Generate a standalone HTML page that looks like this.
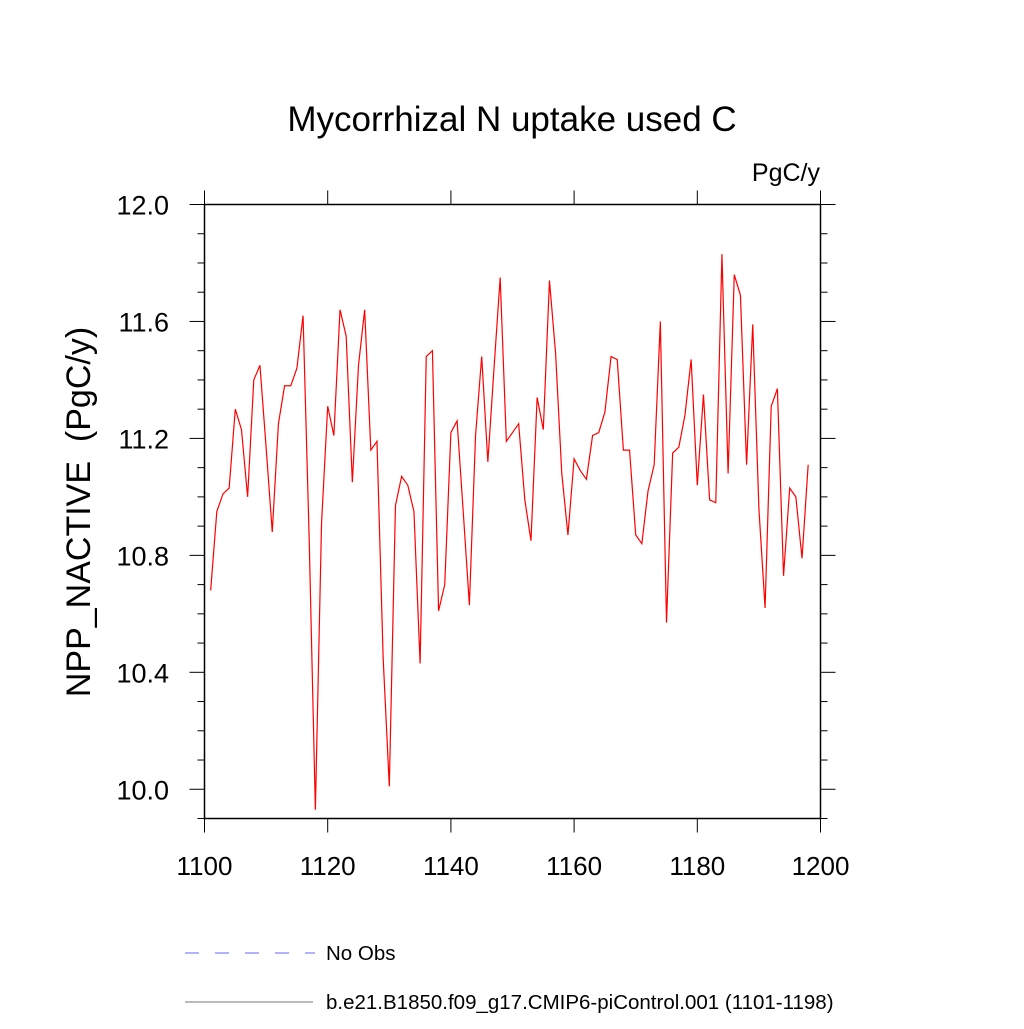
<!DOCTYPE html>
<html><head><meta charset="utf-8"><style>
body{margin:0;background:#fff;}
svg text{font-family:"Liberation Sans",sans-serif;fill:#000;}
</style></head><body>
<svg width="1024" height="1024" viewBox="0 0 1024 1024">
<text x="512" y="131" font-size="35" text-anchor="middle">Mycorrhizal N uptake used C</text>
<text x="820" y="181" font-size="25" text-anchor="end">PgC/y</text>
<text transform="translate(90,512) rotate(-90)" font-size="34" text-anchor="middle">NPP_NACTIVE &#160;(PgC/y)</text>
<g id="axes"></g>
<g id="series"></g>
<line x1="185" y1="953" x2="315" y2="953" stroke="#6666ff" stroke-width="1" stroke-dasharray="14,16"/>
<text x="326" y="960" font-size="20.5">No Obs</text>
<line x1="185" y1="1002" x2="313" y2="1002" stroke="#777" stroke-width="1"/>
<text x="326" y="1009" font-size="20.5">b.e21.B1850.f09_g17.CMIP6-piControl.001 (1101-1198)</text>
</svg>
<script>
const startYear = 1101;
const values = [10.68,10.95,11.01,11.03,11.30,11.23,11.00,11.40,11.45,11.17,
10.88,11.25,11.38,11.38,11.44,11.62,10.85,9.93,10.91,11.31,
11.21,11.64,11.55,11.05,11.45,11.64,11.16,11.19,10.45,10.01,
10.97,11.07,11.04,10.95,10.43,11.48,11.50,10.61,10.70,11.22,
11.26,10.95,10.63,11.21,11.48,11.12,11.44,11.75,11.19,11.22,
11.25,10.99,10.85,11.34,11.23,11.74,11.49,11.08,10.87,11.13,
11.09,11.06,11.21,11.22,11.29,11.48,11.47,11.16,11.16,10.87,
10.84,11.02,11.11,11.60,10.57,11.15,11.17,11.28,11.47,11.04,
11.35,10.99,10.98,11.83,11.08,11.76,11.69,11.11,11.59,10.96,
10.62,11.31,11.37,10.73,11.03,11.00,10.79,11.11];
const xTicks = [1100,1120,1140,1160,1180,1200];
const yTicks = [10.0,10.4,10.8,11.2,11.6,12.0];
const yMin = 9.9, yMax = 12.0, xMin = 1100, xMax = 1200;
const L=204.5,R=820.5,T=204.5,B=818.5;
const xs = v => L + (v-xMin)/(xMax-xMin)*(R-L);
const ys = v => B - (v-yMin)/(yMax-yMin)*(B-T);
const NS="http://www.w3.org/2000/svg";
const ax=document.getElementById('axes');
function ln(x1,y1,x2,y2,w,name){const e=document.createElementNS(NS,'line');
e.setAttribute('x1',x1);e.setAttribute('y1',y1);e.setAttribute('x2',x2);e.setAttribute('y2',y2);
e.setAttribute('stroke','#000');e.setAttribute('stroke-width',w);


ax.appendChild(e);return e;}
const box=document.createElementNS(NS,'rect');
box.setAttribute('x',L);box.setAttribute('y',T);box.setAttribute('width',R-L);box.setAttribute('height',B-T);
box.setAttribute('fill','none');box.setAttribute('stroke','#000');box.setAttribute('stroke-width','1.5');


ax.appendChild(box);
for(let k=0;k<=21;k++){const v=yMin+k*0.1;const y=ys(v);
 const major=yTicks.some(t=>Math.abs(t-v)<1e-6);const len=major?15:7;
 ln(L-len,y,L,y,1,'y-tick');ln(R,y,R+len,y,1,'y-tick-right');}
yTicks.forEach(t=>{const e=document.createElementNS(NS,'text');
 e.setAttribute('x',169);e.setAttribute('y',ys(t)+10);e.setAttribute('font-size','27');e.setAttribute('text-anchor','end');
 e.textContent=t.toFixed(1);
 
 
 ax.appendChild(e);});
xTicks.forEach(t=>{const x=xs(t);ln(x,B,x,B+14,1,'x-tick');ln(x,T-14,x,T,1,'x-tick-top');
 const e=document.createElementNS(NS,'text');
 e.setAttribute('x',x);e.setAttribute('y',875);e.setAttribute('font-size','26');e.setAttribute('text-anchor','middle');
 e.textContent=t;
 
 
 ax.appendChild(e);});
const p=document.createElementNS(NS,'polyline');
p.setAttribute('points',values.map((v,i)=>xs(startYear+i).toFixed(2)+','+ys(v).toFixed(2)).join(' '));
p.setAttribute('fill','none');p.setAttribute('stroke','#ff0000');p.setAttribute('stroke-width','1.2');


document.getElementById('series').appendChild(p);
</script>
</body></html>
